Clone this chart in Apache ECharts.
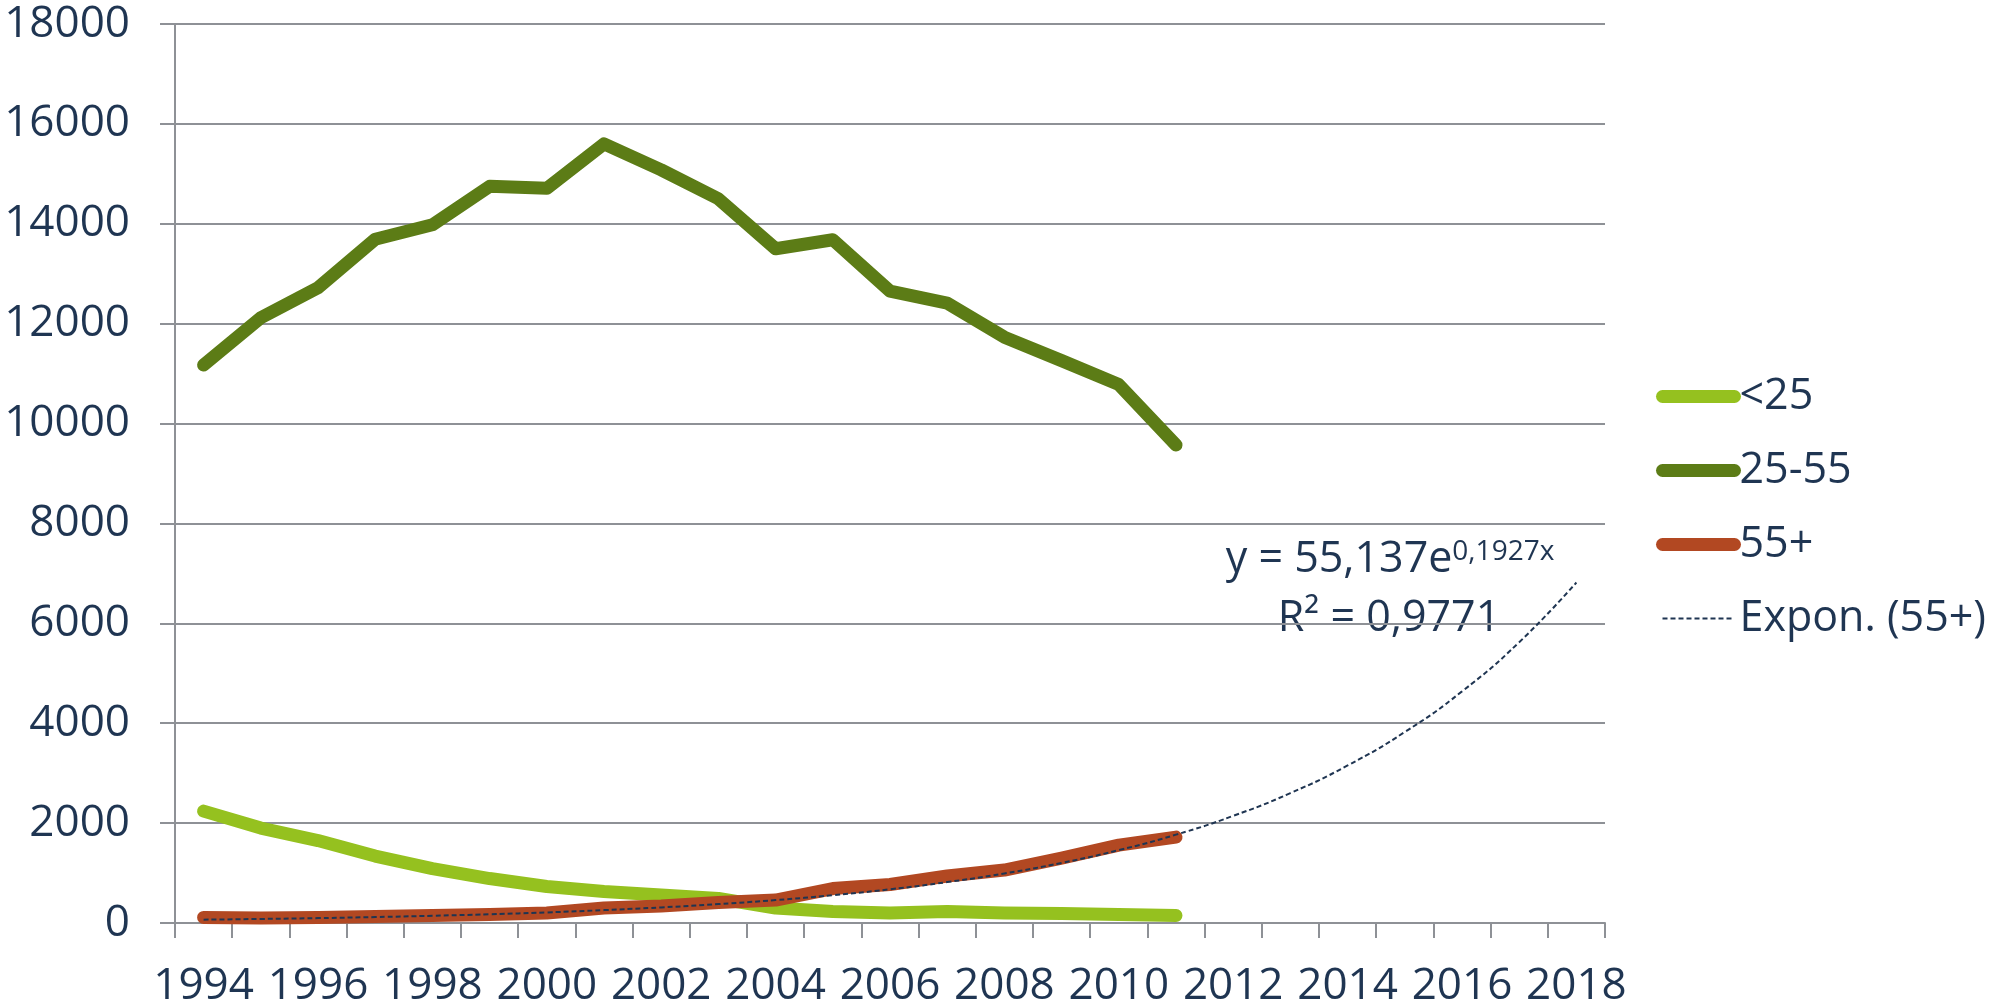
<!DOCTYPE html>
<html>
<head>
<meta charset="utf-8">
<script src="https://cdn.jsdelivr.net/npm/echarts@6/dist/echarts.min.js"></script>
<style>
  html, body { margin: 0; padding: 0; background: #fff; }
  #chart { width: 2005px; height: 1005px; }
</style>
</head>
<body>
<div id="chart"></div>
<script>
const years = ['1994', '1995', '1996', '1997', '1998', '1999', '2000', '2001', '2002',
  '2003', '2004', '2005', '2006', '2007', '2008', '2009', '2010', '2011', '2012',
  '2013', '2014', '2015', '2016', '2017', '2018']

// values, 1994 - 2011
const under25 = [2240, 1900, 1650, 1340, 1090, 890, 730, 630, 560, 490, 300, 230, 200, 230, 200, 190, 170, 150]
const age25to55 = [11170, 12120, 12720, 13690, 13980, 14750, 14710, 15600, 15080, 14500, 13500, 13680, 12650, 12410, 11730, 11260, 10780, 9570]
const over55 = [110, 100, 110, 130, 150, 170, 200, 300, 340, 410, 460, 690, 770, 940, 1060, 1300, 1560, 1720]
// exponential trendline of 55+, 1994 - 2018
const trend55 = [67, 81, 98, 119, 145, 175, 212, 258, 312, 379, 459, 557, 675, 819, 992,
  1203, 1459, 1769, 2145, 2601, 3154, 3824, 4637, 5622, 6817]

const textColor = '#1f3552'
const gridColor = '#8e9196'
const font = 'Open Sans'

const chart = echarts.init(document.getElementById('chart'))
chart.setOption({
  animation: false,
  backgroundColor: '#fff',
  grid: {
    left: 175,
    right: 400,
    top: 24,
    bottom: 82,
    outerBoundsMode: 'none'
  },
  legend: {
    orient: 'vertical',
    left: 1651,
    top: 370,
    itemWidth: 72,
    itemHeight: 14,
    itemGap: 31,
    itemTextGap: 2,
    textStyle: { color: textColor, fontSize: 43, lineHeight: 42, fontFamily: font },
    data: [
      { name: '<25', itemStyle: { opacity: 0 }, lineStyle: { width: 13, cap: 'round' } },
      { name: '25-55', itemStyle: { opacity: 0 }, lineStyle: { width: 13, cap: 'round' } },
      { name: '55+', itemStyle: { opacity: 0 }, lineStyle: { width: 13, cap: 'round' } },
      { name: 'Expon. (55+)', itemStyle: { opacity: 0 }, lineStyle: { width: 2, type: [5, 3] } }
    ]
  },
  xAxis: {
    type: 'category',
    data: years,
    boundaryGap: true,
    axisLine: { lineStyle: { color: gridColor, width: 2 } },
    axisTick: { show: true, interval: 0, length: 15, lineStyle: { color: gridColor, width: 2 } },
    axisLabel: { interval: 1, margin: 41, color: textColor, fontSize: 44, fontFamily: font }
  },
  yAxis: {
    type: 'value',
    min: 0,
    max: 18000,
    interval: 2000,
    axisLine: { show: true, lineStyle: { color: gridColor, width: 2 } },
    axisTick: { show: true, length: 15, lineStyle: { color: gridColor, width: 2 } },
    axisLabel: {
      margin: 45,
      color: textColor,
      fontSize: 44,
      fontFamily: font,
      formatter: v => String(v)
    },
    splitLine: { lineStyle: { color: gridColor, width: 2 } }
  },
  series: [
    {
      name: '<25',
      type: 'line',
      data: under25,
      symbol: 'none',
      color: '#95c11f',
      lineStyle: { width: 13, cap: 'round', join: 'round' }
    },
    {
      name: '25-55',
      type: 'line',
      data: age25to55,
      symbol: 'none',
      color: '#5c7c16',
      lineStyle: { width: 13, cap: 'round', join: 'round' }
    },
    {
      name: '55+',
      type: 'line',
      data: over55,
      symbol: 'none',
      color: '#b24822',
      lineStyle: { width: 13, cap: 'round', join: 'round' }
    },
    {
      name: 'Expon. (55+)',
      type: 'line',
      data: trend55,
      symbol: 'none',
      smooth: true,
      color: textColor,
      lineStyle: { width: 2, type: [5, 3] }
    }
  ],
  graphic: [
    {
      type: 'text',
      x: 1390,
      y: 560,
      style: {
        text: '{m|y = 55,137e}{s|0,1927x}',
        textAlign: 'center',
        textVerticalAlign: 'middle',
        fill: textColor,
        rich: {
          m: { fontSize: 43, fontFamily: font, color: textColor },
          s: { fontSize: 28, fontFamily: font, color: textColor, verticalAlign: 'top' }
        }
      }
    },
    {
      type: 'text',
      x: 1389,
      y: 619,
      style: {
        text: 'R² = 0,9771',
        textAlign: 'center',
        textVerticalAlign: 'middle',
        fill: textColor,
        fontSize: 43,
        fontFamily: font
      }
    }
  ]
})
</script>
</body>
</html>
